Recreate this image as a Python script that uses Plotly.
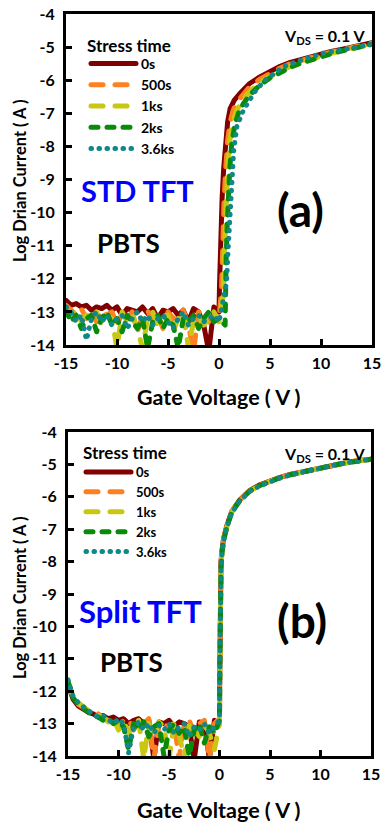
import plotly.graph_objects as go

# ---------------- data ----------------
SERIES = ["0s", "500s", "1ks", "2ks", "3.6ks"]
X_TICKS = [-15, -10, -5, 0, 5, 10, 15]
Y_TICKS = [-4, -5, -6, -7, -8, -9, -10, -11, -12, -13, -14]

VG_OFF = [-15.0, -14.5, -14.0, -13.5, -13.0, -12.5, -12.0, -11.5, -11.0, -10.5, -10.0,
          -9.5, -9.0, -8.5, -8.0, -7.5, -7.0, -6.5, -6.0, -5.5, -5.0, -4.5, -4.0,
          -3.5, -3.0, -2.5, -2.0, -1.5, -1.0, -0.5, 0.0]

# (a) STD TFT
A_OFF_0S = [-12.65, -12.8, -12.75, -12.85, -12.8, -12.95, -12.85, -12.9, -12.8, -12.95, -12.85,
            -13.1, -12.9, -12.95, -13.0, -12.85, -13.05, -12.9, -13.2, -12.95, -13.0, -12.9,
            -13.1, -12.95, -13.3, -12.9, -13.0, -13.4, -14.2, -12.85, -13.0]
A_OFF_500S = [-12.8, -12.95, -13.1, -12.9, -13.2, -13.0, -13.3, -12.95, -13.1, -13.0, -13.4,
              -13.05, -13.2, -13.0, -13.6, -13.1, -12.95, -13.3, -13.1, -13.5, -13.0, -13.2,
              -13.1, -12.95, -13.4, -14.2, -13.0, -13.2, -13.3, -13.1, -13.2]
A_OFF_1KS = [-12.9, -13.1, -13.0, -13.3, -13.1, -13.2, -13.0, -13.4, -13.1, -13.2, -14.1,
             -13.0, -13.3, -13.1, -13.5, -14.1, -13.2, -13.0, -13.4, -13.2, -13.1, -13.6,
             -13.2, -13.0, -14.1, -13.3, -13.1, -13.4, -13.2, -13.0, -13.3]
A_OFF_2KS = [-12.95, -13.3, -13.1, -13.5, -13.2, -13.1, -13.6, -13.2, -13.0, -13.4, -13.2,
             -13.6, -13.1, -13.3, -13.5, -13.2, -14.1, -13.3, -13.1, -13.5, -13.2, -13.4,
             -14.1, -13.2, -13.3, -13.1, -13.5, -13.2, -13.0, -13.3, -13.2]
A_OFF_36KS = [-12.85, -13.0, -13.3, -13.1, -13.85, -13.2, -13.0, -13.3, -13.1, -13.4, -13.2,
              -13.1, -13.5, -13.2, -13.0, -13.3, -13.1, -13.4, -13.2, -13.1, -13.3, -13.5,
              -13.2, -13.0, -13.4, -13.2, -13.1, -13.3, -13.2, -13.1, -13.3]

A_ON_V_0S = [0.05, 0.1, 0.2, 0.3, 0.45, 0.65, 0.85, 1.1, 1.5, 2.0, 2.5, 3.0, 4.0, 5.0, 6.0,
             7.0, 8.0, 9.0, 10.0, 11.0, 12.0, 13.0, 14.0, 15.0]
A_ON_I_0S = [-12.2, -11.3, -10.4, -9.6, -8.7, -7.8, -7.25, -6.85, -6.6, -6.42, -6.25, -6.1,
             -5.9, -5.72, -5.58, -5.46, -5.37, -5.29, -5.2, -5.13, -5.07, -5.0, -4.94, -4.87]
A_ON_V_500S = [0.25, 0.3, 0.4, 0.5, 0.65, 0.85, 1.1, 1.4, 1.8, 2.3, 3.0, 4.0, 5.0, 6.0, 7.0,
               8.0, 9.0, 10.0, 11.0, 12.0, 13.0, 14.0, 15.0]
A_ON_I_500S = [-12.3, -11.3, -10.4, -9.6, -8.7, -7.8, -7.25, -6.9, -6.65, -6.45, -6.2, -5.97,
               -5.78, -5.63, -5.5, -5.4, -5.31, -5.23, -5.15, -5.08, -5.01, -4.95, -4.88]
A_ON_V_1KS = [0.45, 0.5, 0.6, 0.7, 0.85, 1.05, 1.35, 1.7, 2.1, 2.7, 3.5, 4.5, 5.5, 6.5, 7.5,
              8.5, 9.5, 10.5, 11.5, 12.5, 13.5, 14.5, 15.0]
A_ON_I_1KS = [-12.4, -11.4, -10.4, -9.6, -8.7, -7.85, -7.3, -6.95, -6.7, -6.45, -6.2, -5.97,
              -5.8, -5.65, -5.52, -5.41, -5.32, -5.23, -5.15, -5.08, -5.01, -4.94, -4.91]
A_ON_V_2KS = [0.6, 0.62, 0.7, 0.8, 0.9, 1.05, 1.25, 1.55, 1.9, 2.4, 3.0, 4.0, 5.0, 6.0, 7.0,
              8.0, 9.0, 10.0, 11.0, 12.0, 13.0, 14.0, 15.0]
A_ON_I_2KS = [-13.4, -12.4, -11.4, -10.4, -9.6, -8.7, -7.9, -7.35, -7.0, -6.7, -6.45, -6.15,
              -5.93, -5.76, -5.61, -5.49, -5.38, -5.29, -5.2, -5.12, -5.04, -4.97, -4.91]
A_ON_V_36KS = [0.75, 0.9, 1.05, 1.25, 1.45, 1.75, 2.4, 3.0, 3.5, 4.5, 5.5, 6.3, 7.5, 8.9,
               10.0, 11.9, 13.0, 14.5, 15.0]
A_ON_I_36KS = [-12.1, -11.1, -10.1, -9.1, -8.1, -7.4, -6.9, -6.6, -6.35, -6.0, -5.8, -5.6,
               -5.45, -5.3, -5.2, -5.09, -5.02, -4.94, -4.92]

# (b) Split TFT
B_OFF_0S = [-11.8, -12.25, -12.45, -12.55, -12.65, -12.7, -12.8, -12.75, -12.85, -12.8, -12.9,
            -12.85, -13.0, -12.9, -12.85, -13.0, -12.9, -14.1, -12.95, -13.0, -12.9, -13.1,
            -12.95, -13.0, -13.1, -14.1, -12.95, -13.0, -14.1, -12.9, -13.0]
B_OFF_500S = [-11.75, -12.2, -12.4, -12.5, -12.6, -12.75, -12.7, -12.85, -12.9, -12.8, -13.1,
              -12.9, -12.85, -13.2, -12.9, -13.0, -12.85, -14.1, -13.0, -12.9, -13.2, -12.95,
              -14.1, -13.0, -12.9, -13.3, -13.0, -12.9, -14.1, -13.0, -12.85]
B_OFF_1KS = [-11.7, -12.15, -12.35, -12.5, -12.6, -12.7, -12.75, -12.8, -12.95, -12.85, -13.2,
             -12.9, -13.3, -13.0, -12.9, -14.1, -13.0, -13.4, -12.95, -13.1, -14.1, -13.0,
             -13.3, -14.1, -13.0, -13.2, -13.4, -13.0, -13.3, -13.8, -13.0]
B_OFF_2KS = [-11.7, -12.2, -12.4, -12.55, -12.65, -12.75, -12.8, -12.9, -12.85, -13.0, -12.9,
             -13.1, -13.8, -13.0, -13.2, -12.95, -13.4, -13.1, -13.0, -14.0, -13.2, -13.0,
             -13.3, -13.1, -14.0, -13.2, -13.0, -13.6, -13.1, -13.3, -12.9]
B_OFF_36KS = [-11.65, -12.15, -12.35, -12.5, -12.6, -12.7, -12.8, -12.75, -12.9, -13.0, -12.85,
              -13.0, -13.9, -13.1, -12.95, -13.2, -13.0, -13.3, -13.05, -13.2, -13.0, -13.3,
              -13.1, -13.0, -13.4, -13.1, -13.2, -13.0, -13.3, -13.1, -12.9]

B_ON_V = [0.02, 0.04, 0.06, 0.09, 0.15, 0.25, 0.4, 0.7, 1.2, 2.0, 3.0, 4.0, 5.0, 6.0, 7.0,
          8.0, 9.0, 10.0, 11.0, 12.0, 13.0, 14.0, 15.0]
B_ON_I_0S = [-11.6, -10.5, -9.5, -8.6, -8.0, -7.65, -7.3, -6.92, -6.46, -6.1, -5.8, -5.63,
             -5.5, -5.4, -5.31, -5.24, -5.16, -5.1, -5.03, -4.97, -4.92, -4.88, -4.84]
B_ON_I_500S = [-11.7, -10.6, -9.6, -8.7, -8.05, -7.68, -7.32, -6.93, -6.47, -6.11, -5.81,
               -5.64, -5.51, -5.4, -5.31, -5.24, -5.16, -5.1, -5.03, -4.97, -4.92, -4.87, -4.83]
B_ON_I_1KS = [-11.8, -10.7, -9.7, -8.8, -8.1, -7.7, -7.34, -6.95, -6.48, -6.12, -5.82, -5.65,
              -5.51, -5.41, -5.32, -5.24, -5.17, -5.1, -5.04, -4.98, -4.92, -4.88, -4.84]
B_ON_I_2KS = [-11.8, -10.8, -9.8, -8.9, -8.15, -7.72, -7.36, -6.96, -6.49, -6.12, -5.82,
              -5.65, -5.51, -5.41, -5.32, -5.25, -5.17, -5.11, -5.04, -4.98, -4.93, -4.88, -4.84]
B_ON_I_36KS = [-11.9, -10.9, -9.9, -9.0, -8.2, -7.75, -7.38, -6.97, -6.5, -6.13, -5.83,
               -5.66, -5.52, -5.42, -5.33, -5.25, -5.17, -5.11, -5.04, -4.98, -4.93, -4.88, -4.84]

# ---------------- style ----------------
W, H = 383, 825
FONT = "Lato"
COLORS = ["#800000", "#FF8020", "#C8C814", "#0A8A0A", "#118888"]
DASHES = ["solid", "12px,12px", "12px,12px", "7px,9px", "0.5px,7.5px"]
LW = 5


def px(x):
    return x / W


def py(y):
    return 1 - y / H


fig = go.Figure()

a_sets = [
    (A_OFF_0S, A_ON_V_0S, A_ON_I_0S),
    (A_OFF_500S, A_ON_V_500S, A_ON_I_500S),
    (A_OFF_1KS, A_ON_V_1KS, A_ON_I_1KS),
    (A_OFF_2KS, A_ON_V_2KS, A_ON_I_2KS),
    (A_OFF_36KS, A_ON_V_36KS, A_ON_I_36KS),
]
for i, (off, onv, oni) in enumerate(a_sets):
    fig.add_trace(go.Scatter(
        x=VG_OFF + onv, y=off + oni, mode="lines", name=SERIES[i],
        line=dict(color=COLORS[i], width=LW, dash=DASHES[i]),
        xaxis="x", yaxis="y", legend="legend", showlegend=True))

b_sets = [
    (B_OFF_0S, B_ON_I_0S),
    (B_OFF_500S, B_ON_I_500S),
    (B_OFF_1KS, B_ON_I_1KS),
    (B_OFF_2KS, B_ON_I_2KS),
    (B_OFF_36KS, B_ON_I_36KS),
]
for i, (off, oni) in enumerate(b_sets):
    fig.add_trace(go.Scatter(
        x=VG_OFF + B_ON_V, y=off + oni, mode="lines", name=SERIES[i],
        line=dict(color=COLORS[i], width=LW, dash=DASHES[i]),
        xaxis="x2", yaxis="y2", legend="legend2", showlegend=True))

tickfont = dict(family=FONT, size=16, color="black", weight="bold")
axis_common = dict(showline=True, linecolor="black", linewidth=3, mirror=True,
                   ticks="inside", ticklen=6, tickwidth=3, tickcolor="black",
                   showgrid=False, zeroline=False, tickfont=tickfont, automargin=False)
xfmt = dict(range=[-15, 15], tickvals=X_TICKS, ticktext=[str(v) for v in X_TICKS],
            ticklabelstandoff=2, **axis_common)
yfmt = dict(range=[-14, -4], tickvals=Y_TICKS, ticktext=[str(v) for v in Y_TICKS],
            ticklabelstandoff=5, **axis_common)

fig.update_layout(
    width=W, height=H, margin=dict(l=0, r=0, t=0, b=0, autoexpand=False),
    paper_bgcolor="white", plot_bgcolor="white",
    font=dict(family=FONT, color="black"),
    xaxis=dict(domain=[px(66), px(372)], anchor="y", **xfmt),
    yaxis=dict(domain=[py(345), py(14)], anchor="x", **yfmt),
    xaxis2=dict(domain=[px(68), px(371)], anchor="y2", **xfmt),
    yaxis2=dict(domain=[py(756), py(432)], anchor="x2", **yfmt),
    legend=dict(x=px(86), y=py(48), xanchor="left", yanchor="top", itemwidth=45,
                bgcolor="rgba(0,0,0,0)", borderwidth=0,
                font=dict(family=FONT, size=14, weight="bold"), tracegroupgap=0),
    legend2=dict(x=px(81), y=py(457), xanchor="left", yanchor="top", itemwidth=45,
                 bgcolor="rgba(0,0,0,0)", borderwidth=0,
                 font=dict(family=FONT, size=13, weight="bold"), tracegroupgap=0),
)

ann = []


def add_text(text, x, y, size, color="black", xanchor="center", yanchor="middle", angle=0):
    ann.append(dict(text=text, x=px(x), y=py(y), xref="paper", yref="paper",
                    xanchor=xanchor, yanchor=yanchor, showarrow=False, textangle=angle,
                    font=dict(family=FONT, size=size, color=color, weight="bold")))


# axis titles
add_text("Gate Voltage ( V )", 219, 397, 21.5)
add_text("Gate Voltage ( V )", 219, 810, 21.5)
add_text("Log Drian Current ( A )", 20, 181, 16.5, angle=-90)
add_text("Log Drian Current ( A )", 20, 598, 16.5, angle=-90)
# legend headings
add_text("Stress time", 85, 45, 17, xanchor="left")
add_text("Stress time", 81, 452, 17, xanchor="left")
# panel (a)
add_text("V<sub>DS</sub> = 0.1 V", 367, 36, 16, xanchor="right")
add_text("STD TFT", 137, 190, 29, color="#0000FF")
add_text("PBTS", 128, 243, 26)
add_text("(a)", 300, 210, 46)
# panel (b)
add_text("V<sub>DS</sub> = 0.1 V", 367, 454, 16, xanchor="right")
add_text("Split TFT", 140, 611, 31, color="#0000FF")
add_text("PBTS", 131, 662, 26)
add_text("(b)", 302, 620, 46)

fig.update_layout(annotations=ann)

post = """
document.body.style.margin = '0';
document.body.style.padding = '0';
var gd = document.getElementById('{plot_id}');
function roundCaps(){
  gd.querySelectorAll('path.js-line').forEach(function(p){
    p.style.strokeLinecap = 'round';
    p.style.strokeLinejoin = 'round';
  });
}
roundCaps();
if (gd.on) { gd.on('plotly_afterplot', roundCaps); }
"""

fig.write_html("out.html", post_script=post, config={"displayModeBar": False})
